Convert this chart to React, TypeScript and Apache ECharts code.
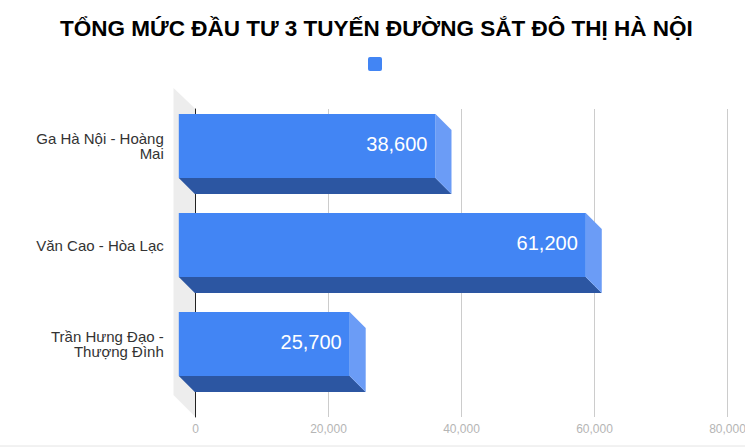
import React, { useEffect, useRef } from "react";
import * as echarts from "echarts";

const titleText = "TỔNG MỨC ĐẦU TƯ 3 TUYẾN ĐƯỜNG SẮT ĐÔ THỊ HÀ NỘI";
const categories = ["Ga Hà Nội - Hoàng\nMai", "Văn Cao - Hòa Lạc", "Trần Hưng Đạo -\nThượng Đình"];
const values = [38600, 61200, 25700];
const axisMax = 80000;
const axisStep = 20000;
const seriesName = " ";

const DEPTH = 16;
const BAR_H = 64;
const FONT = "'Liberation Sans', Arial, sans-serif";
const fmt = (v: number) => v.toLocaleString("en-US");

export default function App() {
  const ref = useRef<HTMLDivElement>(null);
  useEffect(() => {
    document.body.style.margin = "0";
    const chart = echarts.init(ref.current!, undefined, { renderer: "svg" });
    chart.setOption({
      animation: false,
      backgroundColor: "#fff",
      title: {
        text: titleText,
        left: 60,
        top: 17,
        padding: 0,
        textStyle: { fontFamily: FONT, fontWeight: "bold", fontSize: 22.5, color: "#000" },
      },
      legend: {
        top: 57,
        left: 368,
        padding: 0,
        itemWidth: 14,
        itemHeight: 14,
        data: [{ name: seriesName, icon: "path://M2 0H12A2 2 0 0 1 14 2V12A2 2 0 0 1 12 14H2A2 2 0 0 1 0 12V2A2 2 0 0 1 2 0Z", itemStyle: { color: "#4285f4" } }],
        selectedMode: false,
        textStyle: { fontSize: 1, color: "#fff" },
      },
      grid: [
        { left: 195.5, width: 532, top: 109, height: 308, outerBoundsMode: "none" },
        { left: 194.8, width: 532, top: 96.5, height: 297, outerBoundsMode: "none" },
      ],
      xAxis: [
        {
          gridIndex: 0,
          type: "value",
          min: 0,
          max: axisMax,
          interval: axisStep,
          axisLine: { show: false },
          axisTick: { show: false },
          splitLine: { show: true, lineStyle: { color: "#cccccc", width: 1 } },
          axisLabel: {
            formatter: (v: number) => fmt(v),
            color: "#b5b5b5",
            fontFamily: FONT,
            fontSize: 12,
            margin: 6,
            hideOverlap: false,
            showMaxLabel: true,
            showMinLabel: true,
          },
        },
        { gridIndex: 1, type: "value", min: 0, max: axisMax, show: false },
      ],
      yAxis: [
        {
          gridIndex: 0,
          type: "category",
          data: categories,
          inverse: true,
          axisLine: { show: true, onZero: false, lineStyle: { color: "#222", width: 1 } },
          axisTick: { show: false },
          axisLabel: { show: false },
          splitLine: { show: false },
          z: 3,
        },
        {
          gridIndex: 1,
          type: "category",
          data: categories,
          inverse: true,
          axisLine: { show: false },
          axisTick: { show: false },
          splitLine: { show: false },
          axisLabel: {
            color: "#333",
            fontFamily: FONT,
            fontSize: 15,
            lineHeight: 15.5,
            margin: 31,
            align: "right",
            padding: [0, 0, 2, 0],
          },
        },
      ],
      series: [
        {
          type: "custom",
          name: "wall",
          xAxisIndex: 0,
          yAxisIndex: 0,
          z: 1,
          silent: true,
          data: [[0, 0]],
          encode: { x: 0, y: 1 },
          renderItem: (params: any, api: any) => {
            const cs = params.coordSys;
            const x = api.coord([0, 0])[0];
            const top = cs.y;
            const bottom = cs.y + cs.height;
            const d = 22;
            return {
              type: "polygon",
              shape: { points: [[x - d, top - 21], [x, top], [x, bottom], [x - d, bottom - 22]] },
              style: { fill: "#ededed" },
            };
          },
        },
        {
          type: "custom",
          name: seriesName,
          xAxisIndex: 1,
          yAxisIndex: 1,
          z: 5,
          itemStyle: { color: "#4285f4" },
          data: values.map((v, i) => [v, i]),
          encode: { x: 0, y: 1 },
          renderItem: (_p: any, api: any) => {
            const v = api.value(0);
            const [xEnd, yc] = api.coord([v, api.value(1)]);
            const x0 = api.coord([0, api.value(1)])[0];
            const l = x0 - DEPTH;
            const r = xEnd - DEPTH;
            const t = yc - BAR_H / 2;
            const b = yc + BAR_H / 2;
            return {
              type: "group",
              children: [
                {
                  type: "polygon",
                  shape: { points: [[l, b], [r, b], [r + DEPTH, b + DEPTH], [l + DEPTH, b + DEPTH]] },
                  style: { fill: "#2c56a2" },
                },
                {
                  type: "polygon",
                  shape: { points: [[r, t], [r + DEPTH, t + DEPTH], [r + DEPTH, b + DEPTH], [r, b]] },
                  style: { fill: "#6b9cf6" },
                },
                {
                  type: "rect",
                  shape: { x: l, y: t, width: r - l, height: b - t },
                  style: { fill: "#4285f4" },
                },
                {
                  type: "text",
                  style: {
                    text: fmt(v),
                    x: r - 8,
                    y: yc - 2,
                    align: "right",
                    verticalAlign: "middle",
                    fill: "#fff",
                    font: `20px ${FONT}`,
                  },
                },
              ],
            };
          },
        },
      ],
      graphic: [
        {
          type: "line",
          shape: { x1: 0, y1: 446, x2: 745, y2: 446 },
          style: { stroke: "#e4e4e4", lineWidth: 1 },
        },
      ],
    });
    return () => chart.dispose();
  }, []);
  return <div ref={ref} style={{ width: 745, height: 447, position: "fixed", left: 0, top: 0 }} />;
}
